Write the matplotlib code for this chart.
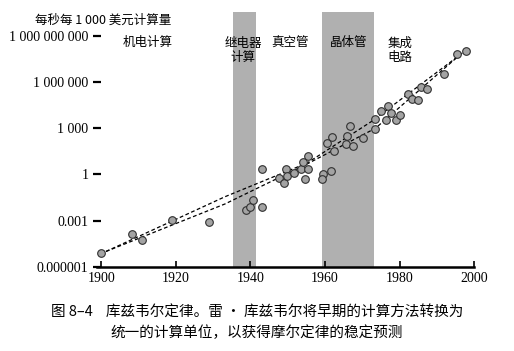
import matplotlib
matplotlib.use('Agg')
import matplotlib.pyplot as plt
import numpy as np

# 数据点（年份, 每秒每1000美元计算量的对数）
years = [1900.0, 1908.4, 1911.0, 1919.0, 1928.8, 1938.9, 1940.0, 1940.8, 1943.2, 1943.2,
         1947.7, 1948.9, 1949.5, 1949.9, 1951.6, 1953.5, 1954.0, 1955.5, 1955.5, 1954.6,
         1959.4, 1959.2, 1961.5, 1960.5, 1961.9, 1962.5, 1965.9, 1965.6, 1966.8, 1967.6,
         1970.1, 1973.3, 1973.4, 1974.9, 1976.8, 1977.6, 1976.3, 1978.9, 1980.2, 1982.2,
         1983.3, 1985.0, 1985.7, 1987.3, 1992.0, 1995.4, 1997.9]
log_calc = [-5.09, -3.89, -4.28, -2.96, -3.09, -2.33, -2.12, -1.66, -2.12, 0.33,
            -0.25, -0.54, 0.33, -0.08, 0.11, 0.35, 0.79, 1.22, 0.33, -0.30,
            0.03, -0.32, 0.24, 2.06, 2.45, 1.52, 2.52, 1.98, 3.15, 1.85,
            2.39, 3.60, 2.97, 4.12, 4.45, 3.99, 3.54, 3.54, 3.88, 5.23,
            4.90, 4.82, 5.66, 5.53, 6.51, 7.80, 8.02]
calc = [10 ** v for v in log_calc]

# 两条趋势虚线（从图上读取的节点）
trend_a_years = [1901.3, 1933.2, 1955.2, 1972.5, 1998.5]
trend_a_log = [-5.01, -1.45, 0.74, 3.45, 8.20]
trend_b_years = [1901.3, 1933.2, 1955.2, 1973.5, 1995.8]
trend_b_log = [-5.01, -1.92, 0.68, 3.00, 7.70]

# 技术时代
bands = [(1935.4, 1941.6), (1959.2, 1973.0)]
eras = ['机电计算', '继电器\n计算', '真空管', '晶体管', '集成\n电路']
era_x = [1912.5, 1938.0, 1950.5, 1966.2, 1980.0]

yticks = [1e-6, 1e-3, 1, 1e3, 1e6, 1e9]
ytick_labels = ['0.000001', '0.001', '1', '1 000', '1 000 000', '1 000 000 000']
xticks = [1900, 1920, 1940, 1960, 1980, 2000]

cjk = ['Noto Sans CJK SC', 'DejaVu Sans']
plt.rcParams['font.family'] = ['Liberation Serif', 'Noto Sans CJK SC']

fig = plt.figure(figsize=(5.14, 3.51), dpi=100)
ax = fig.add_axes([0.188, 0.2402, 0.7348, 0.7256])

for b0, b1 in bands:
    ax.axvspan(b0, b1, color='#b0b0b0', lw=0, zorder=0)

ax.plot(trend_a_years, [10 ** v for v in trend_a_log], color='black', lw=0.9,
        dashes=(3, 2), zorder=2)
ax.plot(trend_b_years, [10 ** v for v in trend_b_log], color='black', lw=0.9,
        dashes=(3, 2), zorder=2)
ax.plot(years, calc, 'o', ms=5.5, mfc='#a3a3a3', mec='#303030', mew=0.8,
        zorder=3, linestyle='none')

ax.set_yscale('log')
ax.set_xlim(1898.8, 2000)
ax.set_ylim(1e-6, 10 ** 10.56)

ax.set_xticks(xticks)
ax.set_xticklabels([str(t) for t in xticks], fontsize=10)
ax.set_yticks(yticks)
ax.set_yticklabels(ytick_labels, fontsize=10)
ax.minorticks_off()

ax.tick_params(axis='x', direction='in', length=4, width=1.2, pad=4)
ax.tick_params(axis='y', direction='inout', length=6, width=1.6, pad=3)

for s in ['top', 'right', 'left']:
    ax.spines[s].set_visible(False)
ax.spines['bottom'].set_linewidth(1.8)

for txt, x in zip(eras, era_x):
    ax.text(x, 10 ** 8.05 if '\n' in txt else 10 ** 8.55, txt, ha='center', va='center',
            family=cjk, fontsize=9, linespacing=1.15)

fig.text(35 / 514, 1 - 20 / 351, '每秒每 1 000 美元计算量', family=cjk, fontsize=9,
         va='center', ha='left')

fig.text(0.5, 1 - 313 / 351, '图 8–4    库兹韦尔定律。雷 · 库兹韦尔将早期的计算方法转换为',
         family=cjk, fontsize=10.5, ha='center', va='center')
fig.text(0.5, 1 - 333 / 351, '统一的计算单位，以获得摩尔定律的稳定预测',
         family=cjk, fontsize=10.5, ha='center', va='center')

fig.savefig('out.png', dpi=100)
